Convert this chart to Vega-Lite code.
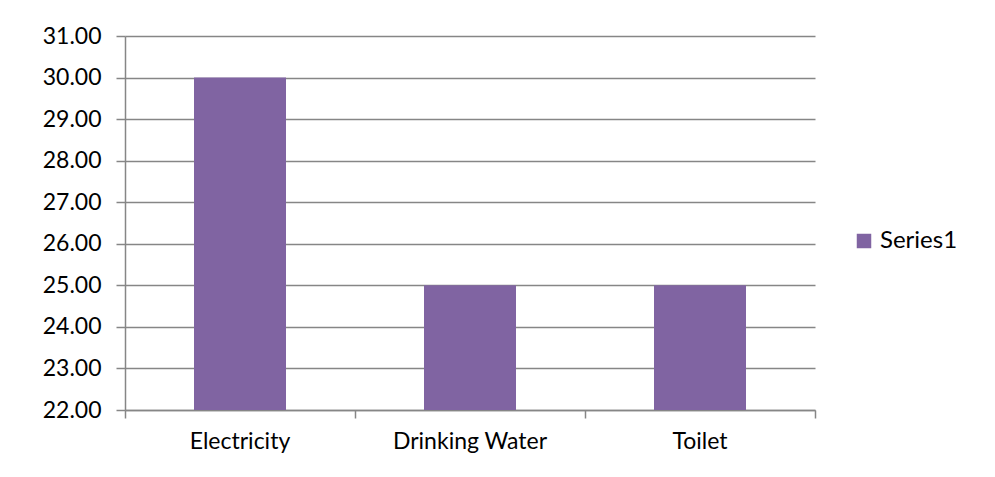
{
  "$schema": "https://vega.github.io/schema/vega-lite/v6.json",
  "width": 690,
  "height": 374,
  "autosize": {"type": "none"},
  "padding": {"left": 125, "top": 36, "right": 180, "bottom": 67},
  "background": "white",
  "config": {
    "view": {"stroke": null},
    "font": "Lato",
    "axis": {"labelFont": "Lato", "labelColor": "#000000", "domainColor": "#868686", "tickColor": "#868686", "gridColor": "#868686", "domainWidth": 1.5, "tickWidth": 1.5, "gridWidth": 1.5},
    "legend": {"labelFont": "Lato", "labelColor": "#000000"}
  },
  "data": {
    "values": [
      {"category": "Electricity", "value": 30, "series": "Series1"},
      {"category": "Drinking Water", "value": 25, "series": "Series1"},
      {"category": "Toilet", "value": 25, "series": "Series1"}
    ]
  },
  "mark": {"type": "bar", "width": {"band": 0.4}, "clip": true},
  "encoding": {
    "x": {
      "field": "category",
      "type": "nominal",
      "sort": null,
      "scale": {"paddingInner": 0, "paddingOuter": 0},
      "axis": {"title": null, "labelAngle": 0, "labelFontSize": 23, "labelPadding": 12, "tickSize": 8, "bandPosition": 1, "tickExtra": true, "grid": false}
    },
    "y": {
      "field": "value",
      "type": "quantitative",
      "scale": {"domain": [22, 31], "nice": false, "zero": false},
      "axis": {"title": null, "values": [22,23,24,25,26,27,28,29,30,31], "format": ".2f", "labelFontSize": 23, "labelPadding": 15, "tickSize": 9, "grid": true}
    },
    "color": {
      "field": "series",
      "type": "nominal",
      "scale": {"range": ["#8064A2"]},
      "legend": {"title": null, "orient": "none", "legendX": 727, "legendY": 193, "symbolType": "square", "symbolSize": 210, "symbolStrokeWidth": 0, "labelFontSize": 24, "labelOffset": 4}
    }
  }
}
